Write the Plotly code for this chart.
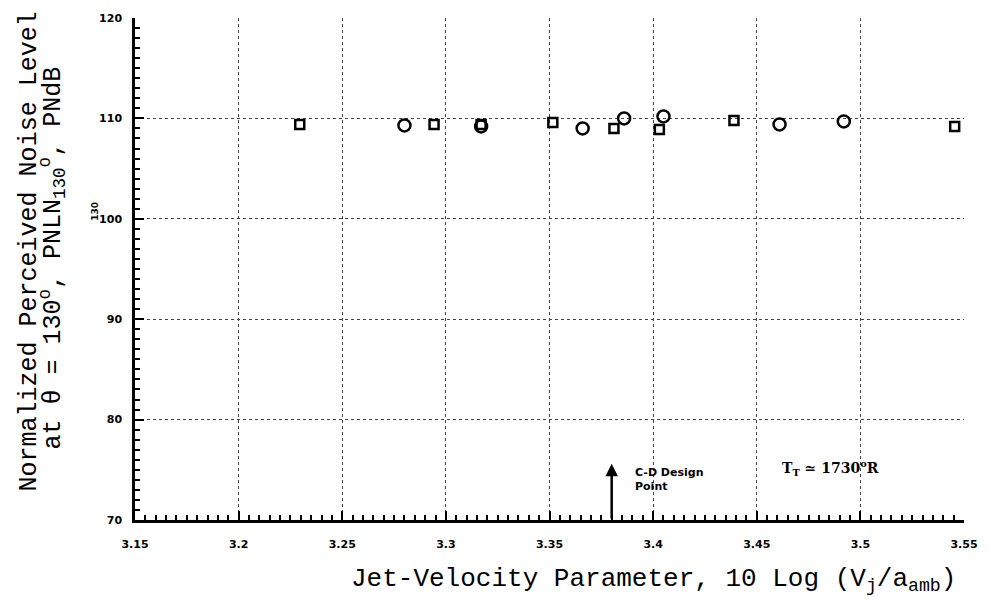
import plotly.graph_objects as go

# Data
square_x = [3.2295, 3.2943, 3.317, 3.3516, 3.3811, 3.403, 3.439, 3.5455]
square_y = [109.4, 109.4, 109.4, 109.6, 109.0, 108.9, 109.8, 109.2]
circle_x = [3.280, 3.317, 3.366, 3.386, 3.405, 3.461, 3.492]
circle_y = [109.3, 109.2, 109.0, 110.0, 110.2, 109.4, 109.7]

x_ticks = [3.15, 3.2, 3.25, 3.3, 3.35, 3.4, 3.45, 3.5, 3.55]
x_labels = ["3.15", "3.2", "3.25", "3.3", "3.35", "3.4", "3.45", "3.5", "3.55"]
y_ticks = [70, 80, 90, 100, 110, 120]
y_labels = ["70", "80", "90", "100", "110", "120"]

design_point_x = 3.38
design_arrow_top = 75.6

fig = go.Figure()
fig.add_trace(go.Scatter(
    x=square_x, y=square_y, mode="markers",
    marker=dict(symbol="square-open", size=9, color="black", line=dict(width=2.5, color="black")),
    showlegend=False, cliponaxis=False))
fig.add_trace(go.Scatter(
    x=circle_x, y=circle_y, mode="markers",
    marker=dict(symbol="circle-open", size=12, color="black", line=dict(width=2.5, color="black")),
    showlegend=False, cliponaxis=False))

tickfont = dict(family="DejaVu Sans", size=11, color="black", weight="bold")

fig.update_xaxes(
    range=[3.15, 3.55], tickvals=x_ticks, ticktext=x_labels,
    showline=True, linecolor="black", linewidth=2.5, mirror=False,
    ticks="inside", ticklen=9, tickwidth=2, tickcolor="black",
    minor=dict(dtick=0.005, ticks="inside", ticklen=5, tickwidth=2, tickcolor="black", showgrid=False),
    showgrid=True, gridcolor="#444", griddash="dot", gridwidth=1,
    zeroline=False, tickfont=tickfont, ticklabelstandoff=12)
fig.update_yaxes(
    range=[70, 120], tickvals=y_ticks, ticktext=y_labels,
    showline=True, linecolor="black", linewidth=2.5, mirror=False,
    ticks="inside", ticklen=9, tickwidth=2, tickcolor="black",
    minor=dict(dtick=1, ticks="inside", ticklen=5, tickwidth=2, tickcolor="black", showgrid=False),
    showgrid=True, gridcolor="#444", griddash="dot", gridwidth=1,
    zeroline=False, tickfont=tickfont, ticklabelstandoff=8)

mono = "Liberation Mono"
annotations = [
    dict(text="Normalized Perceived Noise Level", xref="paper", yref="paper",
         x=0, y=0.535, xshift=-106, xanchor="center", yanchor="middle",
         textangle=-90, showarrow=False,
         font=dict(family=mono, size=25, color="black")),
    dict(text="at θ = 130<sup>o</sup>, PNLN<sub>130</sub><sup>o</sup>, PNdB", xref="paper", yref="paper",
         x=0, y=0.521, xshift=-82, xanchor="center", yanchor="middle",
         textangle=-90, showarrow=False,
         font=dict(family=mono, size=25, color="black")),
    dict(text="Jet-Velocity Parameter, 10 Log (V<sub>j</sub>/a<sub>amb</sub>)", xref="paper", yref="paper",
         x=0.625, y=0, yshift=-60, xanchor="center", yanchor="middle", showarrow=False,
         font=dict(family=mono, size=26, color="black")),
    dict(text="C-D Design", x=3.3905, y=74.75, xref="x", yref="y", xanchor="left", yanchor="middle",
         showarrow=False,
         font=dict(family="DejaVu Sans", size=11, color="black", weight="bold")),
    dict(text="Point", x=3.3905, y=73.35, xref="x", yref="y", xanchor="left", yanchor="middle",
         showarrow=False,
         font=dict(family="DejaVu Sans", size=11, color="black", weight="bold")),
    dict(text="T<sub>T</sub> ≃ 1730<sup>o</sup>R", x=3.461, y=75.15, xref="x", yref="y",
         xanchor="left", yanchor="middle", showarrow=False,
         font=dict(family="DejaVu Serif", size=14, color="black", weight="bold")),
    dict(text="", x=design_point_x, y=design_arrow_top, ax=design_point_x, ay=70,
         xref="x", yref="y", axref="x", ayref="y", showarrow=True,
         arrowhead=2, arrowsize=1, arrowwidth=2.5, arrowcolor="black"),
    dict(text="130", xref="paper", yref="y", x=0, y=100.7, xshift=-40, xanchor="center",
         yanchor="middle", textangle=-90,
         showarrow=False, font=dict(family="DejaVu Sans", size=9, color="black", weight="bold")),
]

fig.update_layout(
    width=990, height=605,
    margin=dict(l=135, r=22, t=15, b=85),
    paper_bgcolor="white", plot_bgcolor="white",
    annotations=annotations,
)

fig.write_html(
    "out.html",
    config={"displayModeBar": False},
    post_script="document.body.style.margin='0';document.body.style.overflow='hidden';",
)
